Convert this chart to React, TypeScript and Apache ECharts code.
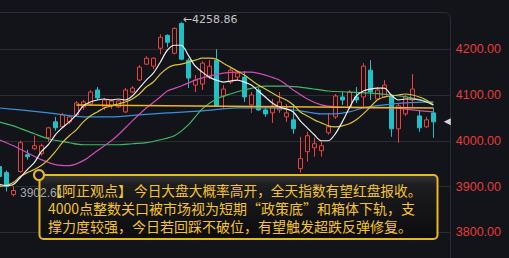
import React, { useEffect, useRef } from "react";
import * as echarts from "echarts";

// ---- data ----
const categories: string[] = Array.from({ length: 65 }, (_, i) => `D${i + 1}`);

// [open, close, low, high]
const candles: number[][] = [
  [3943.5, 3921.7, 3915.2, 3950.0],
  [3930.4, 3900.0, 3889.1, 3934.8],
  [3882.6, 3891.3, 3878.3, 3900.0],
  [3932.6, 3995.7, 3930.4, 4000.0],
  [3969.6, 3965.2, 3958.7, 3980.4],
  [3982.6, 3989.1, 3980.4, 4010.9],
  [3971.7, 3989.1, 3967.4, 3993.5],
  [4006.5, 4028.3, 3997.8, 4030.4],
  [4041.3, 4028.3, 4021.7, 4052.2],
  [4030.4, 4056.5, 4028.3, 4060.9],
  [4041.3, 4052.2, 4037.0, 4056.5],
  [4056.5, 4082.6, 4054.3, 4087.0],
  [4073.9, 4084.8, 4067.4, 4089.1],
  [4080.4, 4106.5, 4078.3, 4110.9],
  [4110.9, 4093.5, 4089.1, 4117.4],
  [4073.9, 4089.1, 4067.4, 4093.5],
  [4076.1, 4087.0, 4069.6, 4091.3],
  [4073.9, 4087.0, 4071.7, 4089.1],
  [4063.0, 4110.9, 4060.9, 4115.2],
  [4106.5, 4115.2, 4104.3, 4119.6],
  [4132.6, 4160.9, 4130.4, 4165.2],
  [4167.4, 4180.4, 4165.2, 4184.8],
  [4163.0, 4180.4, 4156.5, 4182.6],
  [4202.2, 4226.1, 4189.1, 4232.6],
  [4230.4, 4215.2, 4204.3, 4232.6],
  [4191.3, 4245.6, 4189.1, 4247.8],
  [4256.5, 4178.3, 4176.1, 4258.86],
  [4176.1, 4137.0, 4115.2, 4180.4],
  [4121.7, 4132.6, 4106.5, 4143.5],
  [4123.9, 4169.6, 4110.9, 4173.9],
  [4139.1, 4163.0, 4134.8, 4176.1],
  [4176.1, 4076.1, 4073.9, 4200.0],
  [4097.8, 4113.0, 4071.7, 4121.7],
  [4128.3, 4154.3, 4123.9, 4158.7],
  [4139.1, 4147.8, 4132.6, 4152.2],
  [4139.1, 4095.7, 4084.8, 4152.2],
  [4078.3, 4100.0, 4060.9, 4106.5],
  [4110.9, 4067.4, 4065.2, 4115.2],
  [4067.4, 4058.7, 4052.2, 4073.9],
  [4060.9, 4076.1, 4039.1, 4091.3],
  [4067.4, 4084.8, 4060.9, 4106.5],
  [4052.2, 4060.9, 4041.3, 4080.4],
  [4045.7, 4026.1, 4015.2, 4080.4],
  [3939.1, 3960.9, 3930.4, 4008.7],
  [3976.1, 4010.9, 3954.3, 4019.6],
  [3984.8, 3993.5, 3965.2, 4006.5],
  [3978.3, 3989.1, 3965.2, 3997.8],
  [4017.4, 4030.4, 4013.0, 4060.9],
  [4052.2, 4097.8, 4047.8, 4102.2],
  [4095.7, 4089.1, 4078.3, 4106.5],
  [4073.9, 4106.5, 4069.6, 4110.9],
  [4095.7, 4089.1, 4082.6, 4117.4],
  [4095.7, 4163.0, 4073.9, 4169.6],
  [4154.3, 4106.5, 4089.1, 4176.1],
  [4091.3, 4110.9, 4089.1, 4117.4],
  [4095.7, 4121.7, 4093.5, 4132.6],
  [4097.8, 4026.1, 4008.7, 4100.0],
  [4026.1, 4076.1, 3995.7, 4080.4],
  [4058.7, 4095.7, 4054.3, 4100.0],
  [4089.1, 4113.0, 4073.9, 4145.7],
  [4054.3, 4028.3, 4019.6, 4067.4],
  [4030.4, 4045.7, 4028.3, 4052.2],
  [4060.9, 4041.3, 4006.5, 4071.7],
];

const ma5: number[] = [
  3904.3, 3902.2, 3904.3, 3919.6, 3937.0, 3952.2, 3976.1, 3991.3, 4013.0, 4028.3,
  4041.3, 4056.5, 4076.1, 4084.8, 4089.1, 4091.3, 4089.1, 4091.3, 4089.1, 4097.8,
  4115.2, 4132.6, 4147.8, 4171.7, 4197.8, 4208.7, 4208.7, 4187.0, 4163.0, 4150.0,
  4139.1, 4132.6, 4128.3, 4130.4, 4132.6, 4128.3, 4121.7, 4108.7, 4095.7, 4082.6,
  4073.9, 4069.6, 4063.0, 4043.5, 4028.3, 4013.0, 4000.0, 4000.0, 4015.2, 4041.3,
  4071.7, 4097.8, 4108.7, 4113.0, 4115.2, 4115.2, 4100.0, 4089.1, 4091.3, 4091.3,
  4089.1, 4084.8, 4078.3,
];

const ma10: number[] = [
  3900.0, 3902.2, 3908.7, 3921.7, 3930.4, 3937.0, 3945.7, 3958.7, 3976.1, 3995.7,
  4010.9, 4023.9, 4041.3, 4054.3, 4063.0, 4071.7, 4076.1, 4080.4, 4084.8, 4091.3,
  4102.2, 4117.4, 4128.3, 4145.7, 4158.7, 4165.2, 4167.4, 4171.7, 4176.1, 4180.4,
  4180.4, 4178.3, 4169.6, 4160.9, 4152.2, 4143.5, 4132.6, 4121.7, 4113.0, 4104.3,
  4095.7, 4089.1, 4078.3, 4063.0, 4054.3, 4045.7, 4039.1, 4032.6, 4030.4, 4032.6,
  4037.0, 4045.7, 4058.7, 4073.9, 4089.1, 4095.7, 4097.8, 4100.0, 4102.2, 4100.0,
  4095.7, 4089.1, 4078.3,
];

// [index, value]
const ma20: number[][] = [
  [0, 4002.2], [2, 3989.1], [4, 3973.9], [6, 3958.7], [8, 3947.8], [10, 3945.7],
  [12, 3956.5], [14, 3978.3], [16, 4000.0], [17, 4013.0], [19, 4043.5], [21, 4071.7],
  [23, 4095.7], [24, 4108.7], [26, 4119.6], [28, 4132.6], [30, 4141.3], [32, 4147.8],
  [34, 4150.0], [36, 4150.0], [38, 4143.5], [40, 4132.6], [42, 4110.9], [44, 4091.3],
  [46, 4078.3], [48, 4073.9], [52, 4071.7], [56, 4071.7], [59, 4067.4], [62, 4063.0],
];

const ma30: number[][] = [
  [0, 4041.3], [2, 4032.6], [5, 4015.2], [7, 4004.3], [10, 3995.7], [12, 3991.3],
  [15, 3991.3], [17, 3991.3], [19, 3993.5], [21, 3995.7], [23, 4002.2], [25, 4010.9],
  [27, 4034.8], [29, 4069.6], [31, 4091.3], [33, 4102.2], [35, 4110.9], [38, 4119.6],
  [41, 4119.6], [44, 4115.2], [47, 4108.7], [50, 4106.5], [53, 4104.3], [56, 4100.0],
  [59, 4093.5], [62, 4082.6],
];

const ma60: number[][] = [
  [0, 4071.7], [3, 4067.4], [7, 4060.9], [12, 4052.2], [16, 4052.2], [20, 4056.5],
  [24, 4060.9], [29, 4065.2], [34, 4071.7], [39, 4071.7], [43, 4065.2], [46, 4058.7],
  [48, 4058.7], [50, 4063.0], [52, 4071.7], [55, 4078.3], [58, 4082.6], [62, 4084.8],
];

const keyLine: number[][] = [
  [11, 4078.3],
  [62, 4071.7],
];

const yTicks = { min: 3700, max: 4300, step: 100 };
const highLabel = "←4258.86";
const lowLabel = "3902.61";
const lastClose = 4041.3;

const noteTitle = "【阿正观点】";
const noteLine1 = "今日大盘大概率高开，全天指数有望红盘报收。";
const noteLine2 = "4000点整数关口被市场视为短期“政策底”和箱体下轨，支";
const noteLine3 = "撑力度较强，今日若回踩不破位，有望触发超跌反弹修复。";

const BG = "#131419";
const UP = "#e8413e";
const DOWN = "#22bfc6";
const GOLD = "#eab722";
const NOTE = "#f4c330";

export default function App() {
  const ref = useRef<HTMLDivElement>(null);

  useEffect(() => {
    document.body.style.margin = "0";
    document.body.style.background = BG;
    if (!ref.current) return;
    const chart = echarts.init(ref.current, undefined, { renderer: "svg" });

    const maLine = (name: string, data: any, color: string, width = 1.2) => ({
      type: "line",
      name,
      data,
      showSymbol: false,
      symbol: "none",
      smooth: 0.3,
      lineStyle: { color, width },
      z: 3,
      silent: true,
    });

    const font = { fontFamily: "Noto Sans CJK SC", lineHeight: 18, color: NOTE };

    const option: any = {
      animation: false,
      backgroundColor: BG,
      grid: {
        left: -4.2,
        top: 3.5,
        width: 455,
        height: 274.5,
        containLabel: false,
        outerBoundsMode: "none",
      },
      xAxis: {
        type: "category",
        data: categories,
        boundaryGap: true,
        show: false,
      },
      yAxis: {
        type: "value",
        position: "right",
        min: yTicks.min,
        max: yTicks.max,
        interval: yTicks.step,
        axisLine: { show: false },
        axisTick: { show: false },
        splitLine: {
          show: true,
          showMinLine: false,
          showMaxLine: false,
          lineStyle: { color: "#2a2c32", width: 1 },
        },
        axisLabel: {
          show: true,
          showMinLabel: false,
          showMaxLabel: false,
          color: "#e63b3b",
          fontSize: 12.5,
          fontFamily: "Liberation Sans",
          margin: 5,
          formatter: (v: number) => v.toFixed(2),
        },
      },
      series: [
        {
          type: "candlestick",
          data: candles,
          barWidth: 5,
          itemStyle: {
            color: BG,
            color0: DOWN,
            borderColor: UP,
            borderColor0: DOWN,
            borderWidth: 1,
          },
          z: 2,
          markPoint: {
            silent: true,
            data: [
              {
                coord: [26, 4258.86],
                symbol: "circle",
                symbolSize: 1,
                itemStyle: { color: "rgba(0,0,0,0)" },
                label: {
                  show: true,
                  position: "right",
                  distance: 1,
                  offset: [0, -3],
                  formatter: highLabel,
                  color: "#c4c4c4",
                  fontSize: 11,
                  fontFamily: "DejaVu Sans",
                },
              },
              {
                coord: [64, lastClose],
                symbol: "triangle",
                symbolSize: [7, 7],
                symbolRotate: 90,
                itemStyle: { color: "#d4d4d4" },
                label: { show: false },
              },
            ],
          },
        },
        maLine("MA60", ma60, "#3d8ed6"),
        maLine("MA30", ma30, "#3fb866"),
        maLine("MA20", ma20, "#cf4cb4"),
        maLine("KEY", keyLine, GOLD, 1.6),
        maLine("MA10", ma10, "#d8c23a"),
        maLine("MA5", ma5, "#eeeeee"),
      ],
      graphic: [
        {
          type: "rect",
          z: 1,
          silent: true,
          shape: { x: -20, y: 12.5, width: 470.5, height: 300, r: 6 },
          style: { fill: "none", stroke: "#2c2e35", lineWidth: 1 },
        },
        {
          type: "rect",
          z: 100,
          silent: true,
          shape: { x: 39.5, y: 175, width: 398, height: 64, r: 4 },
          style: {
            fill: new echarts.graphic.LinearGradient(0, 0, 0, 1, [
              { offset: 0, color: "rgba(62,62,64,0.85)" },
              { offset: 0.16, color: "rgba(30,30,32,0.85)" },
              { offset: 1, color: "rgba(10,10,12,0.85)" },
            ]),
            stroke: GOLD,
            lineWidth: 2,
          },
        },
        {
          type: "text",
          z: 101,
          silent: true,
          style: {
            text: lowLabel,
            x: 20,
            y: 193,
            verticalAlign: "middle",
            fill: "#a9a9a9",
            fontSize: 12,
            fontFamily: "Liberation Sans",
          },
        },
        {
          type: "circle",
          z: 102,
          silent: true,
          shape: { cx: 39, cy: 175, r: 5 },
          style: { fill: BG, stroke: GOLD, lineWidth: 2 },
        },
        {
          type: "text",
          z: 103,
          silent: true,
          style: {
            text: `{h|${noteTitle}}{t|${noteLine1}}\n{n|${noteLine2}}\n{n|${noteLine3}}`,
            x: 48,
            y: 180.5,
            verticalAlign: "top",
            fill: NOTE,
            fontSize: 14,
            fontFamily: "Noto Sans CJK SC",
            lineHeight: 18,
            rich: {
              h: { ...font, fontSize: 14 },
              t: { ...font, fontSize: 13.7, padding: [0, 0, 0, 2] },
              n: { ...font, fontSize: 14 },
            },
          },
        },
      ],
    };

    chart.setOption(option);
    return () => chart.dispose();
  }, []);

  return <div ref={ref} style={{ width: 509, height: 258 }} />;
}
